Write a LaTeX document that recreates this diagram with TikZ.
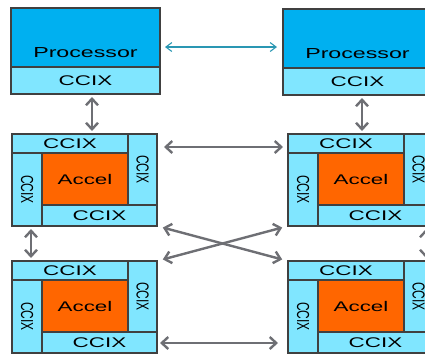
\documentclass[tikz,border=0pt]{standalone}
\usepackage{fontspec}
\usepackage{tikz}
\usetikzlibrary{positioning,arrows.meta}
\newfontfamily\diagfont{Liberation Sans}[FakeStretch=1.6]
\newfontfamily\diagfontv{Liberation Sans}
\definecolor{procBlue}{HTML}{00B0F0}
\definecolor{ccixCyan}{HTML}{80E6FF}
\definecolor{accelOrange}{HTML}{FF6600}
\definecolor{edgeGray}{HTML}{404040}
\definecolor{linkGray}{HTML}{6E6F74}
\definecolor{linkTeal}{HTML}{2A97B3}

\begin{document}
\begin{tikzpicture}[
  x=1pt, y=-1pt,
  font=\diagfont\fontsize{14}{14}\selectfont,
  every node/.style={inner sep=0pt, outer sep=0pt},
  blk/.style={rectangle, minimum width=145pt, minimum height=92pt},
  pblk/.style={rectangle, minimum width=149pt, minimum height=86pt},
  part/.style={rectangle, draw=edgeGray, line width=1.2pt},
  proc/.style={part, fill=procBlue, minimum width=149pt, text height=49pt, text depth=10pt,
    font=\diagfont\fontsize{14.5}{14.5}\selectfont},
  cxh/.style={part, fill=ccixCyan},
  cxv/.style={part, fill=ccixCyan, font=\diagfontv\fontsize{12}{12}\selectfont},
  acc/.style={part, fill=accelOrange, minimum width=86pt, minimum height=52pt},
  frame/.style={draw=edgeGray, line width=2pt},
  arr/.style={{Straight Barb[length=6.5pt,width=12pt]}-{Straight Barb[length=6.5pt,width=12pt]},
    line width=2.4pt, draw=linkGray, shorten <=3pt, shorten >=3pt},
  tarr/.style={{Straight Barb[length=6pt,width=9pt]}-{Straight Barb[length=6pt,width=9pt]},
    line width=1.1pt, draw=linkTeal}
]
\clip (0,0) rectangle (425,354);

% processors
\node[pblk] (pl) at (85.5,51) {};
\node[proc, anchor=north west] (plP) at (pl.north west) {Processor};
\node[cxh, minimum width=149pt, minimum height=27pt, anchor=south west] (plC) at (pl.south west) {CCIX};
\draw[frame] (pl.north west) rectangle (pl.south east);

\node[pblk] (pr) at (357.5,52) {};
\node[proc, anchor=north west] (prP) at (pr.north west) {Processor};
\node[cxh, minimum width=149pt, minimum height=27pt, anchor=south west] (prC) at (pr.south west) {CCIX};
\draw[frame] (pr.north west) rectangle (pr.south east);

% accelerators
\node[blk] (tl) at (84.5,180) {};
\node[cxh, minimum width=116pt, minimum height=19pt, anchor=north west] (tlT) at (tl.north west) {CCIX};
\node[cxv, minimum width=29pt, minimum height=71pt, anchor=north east] (tlR) at (tl.north east) {\rotatebox{-90}{\scalebox{1}[1.45]{CCIX}}};
\node[cxv, minimum width=30pt, minimum height=73pt, anchor=south west] (tlL) at (tl.south west) {\rotatebox{-90}{\scalebox{1}[1.45]{CCIX}}};
\node[cxh, minimum width=115pt, minimum height=21pt, anchor=south east] (tlB) at (tl.south east) {CCIX};
\node[acc, anchor=north east] (tlA) at (tlT.south east) {Accel};
\draw[frame] (tl.north west) rectangle (tl.south east);

\node[blk] (tr) at (360.5,180) {};
\node[cxh, minimum width=116pt, minimum height=19pt, anchor=north west] (trT) at (tr.north west) {CCIX};
\node[cxv, minimum width=29pt, minimum height=71pt, anchor=north east] (trR) at (tr.north east) {\rotatebox{-90}{\scalebox{1}[1.45]{CCIX}}};
\node[cxv, minimum width=30pt, minimum height=73pt, anchor=south west] (trL) at (tr.south west) {\rotatebox{-90}{\scalebox{1}[1.45]{CCIX}}};
\node[cxh, minimum width=115pt, minimum height=21pt, anchor=south east] (trB) at (tr.south east) {CCIX};
\node[acc, anchor=north east] (trA) at (trT.south east) {Accel};
\draw[frame] (tr.north west) rectangle (tr.south east);

\node[blk] (bl) at (84.5,307) {};
\node[cxh, minimum width=116pt, minimum height=19pt, anchor=north west] (blT) at (bl.north west) {CCIX};
\node[cxv, minimum width=29pt, minimum height=71pt, anchor=north east] (blR) at (bl.north east) {\rotatebox{-90}{\scalebox{1}[1.45]{CCIX}}};
\node[cxv, minimum width=30pt, minimum height=73pt, anchor=south west] (blL) at (bl.south west) {\rotatebox{-90}{\scalebox{1}[1.45]{CCIX}}};
\node[cxh, minimum width=115pt, minimum height=21pt, anchor=south east] (blB) at (bl.south east) {CCIX};
\node[acc, anchor=north east] (blA) at (blT.south east) {Accel};
\draw[frame] (bl.north west) rectangle (bl.south east);

\node[blk] (br) at (360.5,307) {};
\node[cxh, minimum width=116pt, minimum height=19pt, anchor=north west] (brT) at (br.north west) {CCIX};
\node[cxv, minimum width=29pt, minimum height=71pt, anchor=north east] (brR) at (br.north east) {\rotatebox{-90}{\scalebox{1}[1.45]{CCIX}}};
\node[cxv, minimum width=30pt, minimum height=73pt, anchor=south west] (brL) at (br.south west) {\rotatebox{-90}{\scalebox{1}[1.45]{CCIX}}};
\node[cxh, minimum width=115pt, minimum height=21pt, anchor=south east] (brB) at (br.south east) {CCIX};
\node[acc, anchor=north east] (brA) at (brT.south east) {Accel};
\draw[frame] (br.north west) rectangle (br.south east);

% links
\draw[tarr, shorten <=5pt, shorten >=6pt] ([yshift=4pt]pl.east) -- ([yshift=5pt]pr.west);
\draw[arr] ([xshift=6.5pt]pl.south) -- ([xshift=7.5pt]tl.north);
\draw[arr] ([xshift=4.5pt]pr.south) -- ([xshift=1.5pt]tr.north);
\draw[arr, shorten <=7pt, shorten >=5pt] ([yshift=33pt]tl.east) -- ([yshift=33pt]tr.west);
\draw[arr, shorten <=6pt, shorten >=6pt] (tl.south east) -- (br.north west);
\draw[arr, shorten <=6pt, shorten >=6pt] (tr.south west) -- (bl.north east);
\draw[arr] ([xshift=19pt]tl.south west) -- ([xshift=19pt]bl.north west);
\draw[arr] ([xshift=-7pt]tr.south east) -- ([xshift=-7pt]br.north east);
\draw[arr, shorten <=3pt, shorten >=10pt] ([yshift=-36pt]bl.east) -- ([yshift=-36pt]br.west);

\end{tikzpicture}
\end{document}
